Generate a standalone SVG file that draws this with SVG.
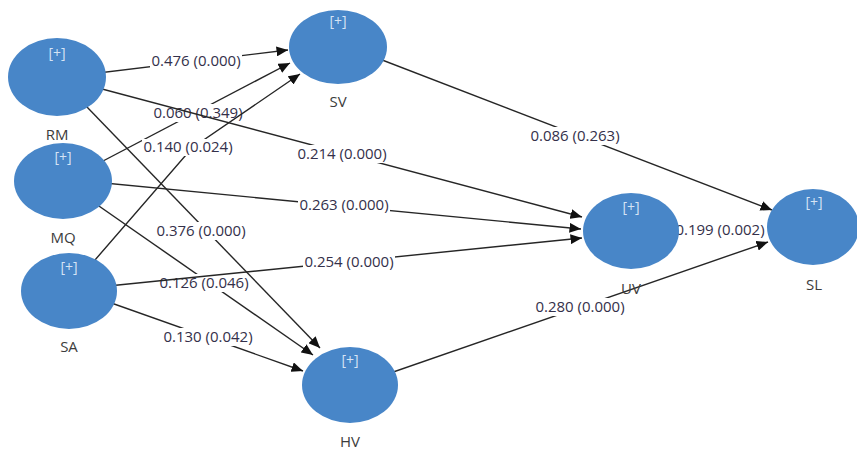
<svg xmlns="http://www.w3.org/2000/svg" width="857" height="453" viewBox="0 0 857 453">
<defs>
<marker id="arr" markerUnits="userSpaceOnUse" markerWidth="12" markerHeight="10" refX="11.5" refY="5" orient="auto">
<path d="M0,0 L11.5,5 L0,10 z" fill="#111"/>
</marker>
<style>
.e{fill:none;stroke:#262626;stroke-width:1.4;marker-end:url(#arr)}
.lb{fill:#ffffff}
.lt{font-family:"Open Sans","Liberation Sans",sans-serif;font-size:15px;fill:#34304a;text-anchor:middle}
.n{fill:#4886c8}
.p{font-family:"Open Sans","Liberation Sans",sans-serif;font-size:14px;fill:#d6e4f5;text-anchor:middle}
.nm{font-family:"Open Sans","Liberation Sans",sans-serif;font-size:15px;fill:#3c3c3c;text-anchor:middle}
</style>
</defs>
<rect width="857" height="453" fill="#ffffff"/>
<g id="connectors">
<g><path class="e" d="M57,78 L288,50"/><rect class="lb" x="150" y="52" width="92" height="18"/><text class="lt" x="196" y="66">0.476 (0.000)</text></g>
<g><path class="e" d="M63,182 L290,63"/><rect class="lb" x="152" y="104" width="92" height="18"/><text class="lt" x="198" y="118">0.060 (0.349)</text></g>
<g><path class="e" d="M69,290 L192,148 L300,74"/><rect class="lb" x="142" y="139" width="92" height="17"/><text class="lt" x="188" y="152">0.140 (0.024)</text></g>
<g><path class="e" d="M57,77 L582,217"/><rect class="lb" x="296" y="145" width="92" height="18"/><text class="lt" x="342" y="159">0.214 (0.000)</text></g>
<g><path class="e" d="M63,179 L581,229"/><rect class="lb" x="298" y="196" width="92" height="18"/><text class="lt" x="344" y="210">0.263 (0.000)</text></g>
<g><path class="e" d="M63,181 L313,355"/><rect class="lb" x="158" y="274" width="92" height="18"/><text class="lt" x="204" y="288">0.126 (0.046)</text></g>
<g><path class="e" d="M69,290 L582,238"/><rect class="lb" x="303" y="253" width="92" height="18"/><text class="lt" x="349" y="267">0.254 (0.000)</text></g>
<g><path class="e" d="M57,76 L320,348"/><rect class="lb" x="155" y="222" width="92" height="18"/><text class="lt" x="201" y="236">0.376 (0.000)</text></g>
<g><path class="e" d="M69,288 L303,371"/><rect class="lb" x="162" y="328" width="92" height="18"/><text class="lt" x="208" y="342">0.130 (0.042)</text></g>
<g><path class="e" d="M338,43 L772,210"/><rect class="lb" x="529" y="127" width="92" height="18"/><text class="lt" x="575" y="141">0.086 (0.263)</text></g>
<g><path class="e" d="M631,231 L767,228"/><rect class="lb" x="674" y="221" width="93" height="18"/><text class="lt" x="720" y="235">0.199 (0.002)</text></g>
<g><path class="e" d="M350,387 L768,242"/><rect class="lb" x="534" y="298" width="92" height="18"/><text class="lt" x="580" y="312">0.280 (0.000)</text></g>
</g>
<g id="RM"><ellipse class="n" cx="57" cy="77" rx="49" ry="39"/><text class="p" x="57" y="58">[+]</text><text class="nm" x="57" y="140">RM</text></g>
<g id="MQ"><ellipse class="n" cx="63" cy="181" rx="49" ry="38"/><text class="p" x="63" y="162">[+]</text><text class="nm" x="63" y="243">MQ</text></g>
<g id="SA"><ellipse class="n" cx="69" cy="291" rx="48" ry="38"/><text class="p" x="69" y="272">[+]</text><text class="nm" x="69" y="352">SA</text></g>
<g id="SV"><ellipse class="n" cx="338" cy="47" rx="49" ry="37"/><text class="p" x="338" y="26">[+]</text><text class="nm" x="338" y="107">SV</text></g>
<g id="HV"><ellipse class="n" cx="350" cy="385" rx="48" ry="38"/><text class="p" x="350" y="365">[+]</text><text class="nm" x="350" y="447">HV</text></g>
<g id="UV"><ellipse class="n" cx="631" cy="231" rx="48" ry="38"/><text class="p" x="631" y="212">[+]</text><text class="nm" x="631" y="294">UV</text></g>
<g id="SL"><ellipse class="n" cx="813" cy="227" rx="46" ry="38"/><text class="p" x="814" y="207">[+]</text><text class="nm" x="814" y="290">SL</text></g>
</svg>
